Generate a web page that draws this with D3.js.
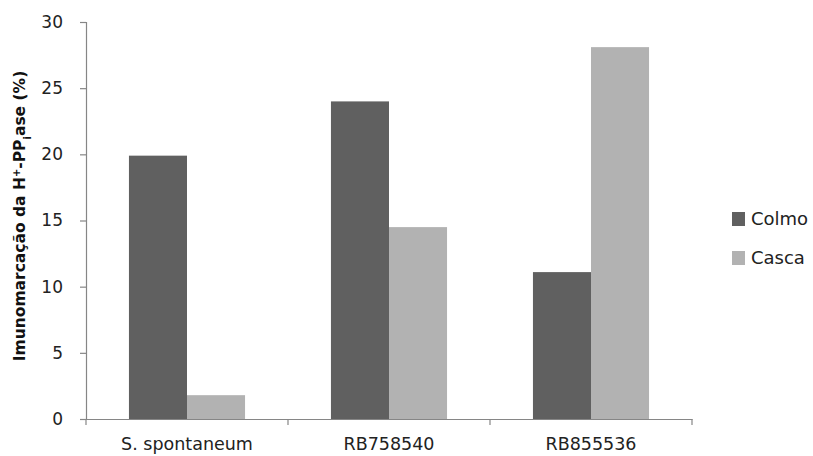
<!DOCTYPE html>
<html><head><meta charset="utf-8">
<script src="https://cdn.jsdelivr.net/npm/d3@7"></script>
<style>body{margin:0;background:#fff}svg{display:block}</style>
</head><body>
<script>
const categories = ["S. spontaneum", "RB758540", "RB855536"];
const seriesNames = ["Colmo", "Casca"];
const colmo = [19.9, 24.0, 11.1];
const casca = [1.8, 14.5, 28.1];
const yTicks = [0, 5, 10, 15, 20, 25, 30];
const colors = ["#606060", "#b2b2b2"];

(function(){
const W = 813, H = 456;
const svg = d3.select("body").append("svg").attr("width", W).attr("height", H);
const mL = 86, mR = 692, mT = 22, mB = 419;

const x = d3.scaleBand().domain(categories).range([mL, mR]).paddingInner(0).paddingOuter(0);
const xs = d3.scaleBand().domain(seriesNames).range([0, x.bandwidth()]).paddingInner(0).paddingOuter(0.74);
const y = d3.scaleLinear().domain([0, 30]).range([mB, mT]);

const font = "'DejaVu Sans', Verdana, sans-serif";
const axisColor = "#868686";

const data = [colmo, casca];
seriesNames.forEach((s, si) => {
  svg.append("g").selectAll("rect").data(categories).join("rect")
    .attr("x", c => x(c) + xs(s))
    .attr("width", xs.bandwidth())
    .attr("y", (c, i) => y(data[si][i]))
    .attr("height", (c, i) => y(0) - y(data[si][i]))
    .attr("fill", colors[si]);
});

const ya = svg.append("g").attr("transform", `translate(${mL},0)`)
  .call(d3.axisLeft(y).tickValues(yTicks).tickSize(6).tickPadding(17));
ya.select(".domain").attr("stroke", axisColor).attr("stroke-width", 1.2);
ya.selectAll(".tick line").attr("stroke", axisColor).attr("stroke-width", 1.2);
ya.selectAll(".tick text").attr("font-family", font).attr("font-size", 17).attr("fill", "#222");

const xa = svg.append("g").attr("transform", `translate(0,${mB})`)
  .call(d3.axisBottom(x).tickSize(0).tickPadding(19));
xa.select(".domain").attr("stroke", axisColor).attr("stroke-width", 1.2);
xa.selectAll(".tick text").attr("font-family", font).attr("font-size", 17.5).attr("fill", "#222");
const seps = categories.map(c => x(c)).concat([x(categories[categories.length-1]) + x.bandwidth()]);
xa.append("g").selectAll("line").data(seps).join("line")
  .attr("x1", d => d).attr("x2", d => d).attr("y1", 0).attr("y2", 6)
  .attr("stroke", axisColor).attr("stroke-width", 1.2);

const t = svg.append("text")
  .attr("transform", `translate(25,216) rotate(-90)`)
  .attr("text-anchor", "middle")
  .attr("font-family", font).attr("font-size", 15.5).attr("font-weight", "bold").attr("fill", "#111");
t.append("tspan").text("Imunomarcação da H");
t.append("tspan").attr("baseline-shift", "super").attr("font-size", 10).text("+");
t.append("tspan").text("-PP");
t.append("tspan").attr("baseline-shift", "sub").attr("font-size", 10).text("i");
t.append("tspan").text("ase (%)");

const lg = svg.append("g");
seriesNames.forEach((s, i) => {
  const ly = 219 + i * 39;
  lg.append("rect").attr("x", 732).attr("y", ly - 7).attr("width", 13).attr("height", 14).attr("fill", colors[i]);
  lg.append("text").attr("x", 751).attr("y", ly).attr("dy", "0.35em")
    .attr("font-family", font).attr("font-size", 18).attr("fill", "#222").text(s);
});
})();
</script>
</body></html>
